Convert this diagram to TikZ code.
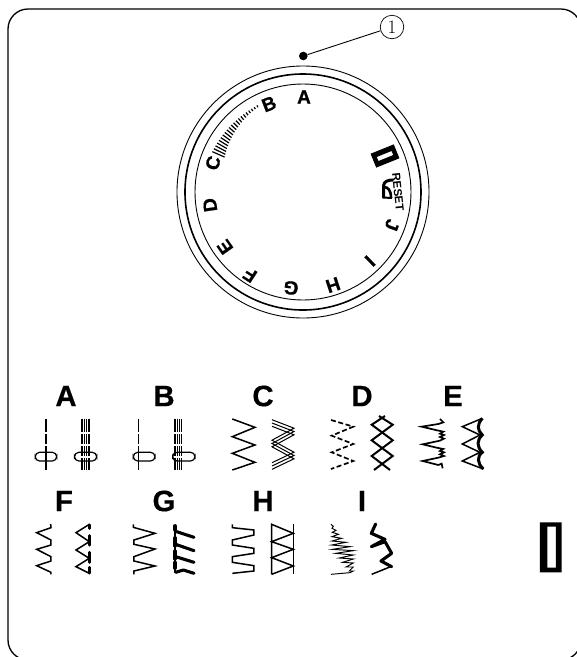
\documentclass[tikz,border=0pt]{standalone}
\usepackage{fontspec}
\setmainfont{Liberation Sans}
\newfontfamily\circfont{Latin Modern Roman}
\newfontfamily\dialfont{Liberation Sans}[BoldFeatures={FakeBold=0.8}]
\newfontfamily\rowfont{Liberation Sans}[BoldFeatures={FakeBold=0.4}]
\tikzset{
  px/.style={x=1pt,y=-1pt},
  zTwo/.style={shift={(20,375)},x=0.3333pt,y=-0.3333pt},
  zThree/.style={shift={(270,375)},x=0.3333pt,y=-0.3333pt},
  zFour/.style={shift={(30,485)},x=0.3333pt,y=-0.3333pt},
  zFive/.style={shift={(270,485)},x=0.3333pt,y=-0.3333pt},
  thinln/.style={line width=1.1pt,line join=miter},
  stitch/.style={line width=1.5pt,line join=miter},
  heavy/.style={line width=3.1pt,line cap=round,line join=round},
  dialletter/.style={font=\dialfont\fontsize{19}{19}\selectfont\bfseries,inner sep=0pt},
  rowletter/.style={font=\rowfont\fontsize{29.5}{30}\selectfont\bfseries,inner sep=0pt},
  oval/.style={draw,line width=1.2pt,rounded corners=4.4pt,fill=white}
}
\begin{document}
\begin{tikzpicture}[px]
\useasboundingbox (0,0) rectangle (577,657);
\begin{scope}
\clip (0,0) rectangle (577,657);
\draw[line width=1.3pt,rounded corners=20pt] (8,9) rectangle (581,660);
\end{scope}
% dial
\coordinate (dial) at (303,192);
\draw[line width=0.9pt] (dial) circle[radius=126pt];
\draw[line width=1.6pt] (dial) circle[radius=118pt];
\draw[line width=0.9pt] (dial) circle[radius=108pt];
\node[circle,fill=black,inner sep=0pt,minimum size=8.6pt] (dot) at (303.3,56) {};
\node[circle,draw,line width=0.7pt,inner sep=0pt,minimum size=23.5pt,font=\circfont\fontsize{19}{19}\selectfont] (one) at (392,27) {1};
\draw[line width=0.9pt] (dot) -- (one);
\node[dialletter,rotate=0] at (304,97) {A};
\node[dialletter,rotate=21] at (269,104) {B};
\node[dialletter,rotate=72] at (213,163) {C};
\node[dialletter,rotate=98] at (210,205) {D};
\node[dialletter,rotate=125] at (225,247) {E};
\node[dialletter,rotate=147] at (250,275) {F};
\node[dialletter,rotate=173] at (291,288) {G};
\node[dialletter,rotate=-162] at (333,285) {H};
\node[dialletter,rotate=-136] at (370,261) {I};
\node[dialletter,rotate=-110] at (392,225) {J};
\foreach \i in {0,...,20}{
  \pgfmathsetmacro{\ang}{118+38*\i/20}
  \pgfmathsetmacro{\hl}{1+5.7*pow(\i/20,1.3)}
  \pgfmathsetmacro{\rmid}{97-4.5*\i/20}
  \pgfmathsetmacro{\xa}{303+(\rmid+\hl)*cos(\ang)}
  \pgfmathsetmacro{\ya}{192-(\rmid+\hl)*sin(\ang)}
  \pgfmathsetmacro{\xb}{303+(\rmid-\hl)*cos(\ang)}
  \pgfmathsetmacro{\yb}{192-(\rmid-\hl)*sin(\ang)}
  \draw[line width=1.2pt] (\xa,\ya) -- (\xb,\yb);
}
\begin{scope}[shift={(385,156)},rotate=-68]
\path[fill=black,even odd rule] (-7.5,-12.5) rectangle (7.5,12.5) (-2.2,-8) rectangle (2.2,8);
\end{scope}
\node[font=\fontsize{11.5}{12}\selectfont\bfseries,inner sep=0pt,rotate=-84] at (398,192) {RESET};
\draw[line width=3pt,line join=round] (383.5,198) -- (383.5,186) .. controls (383.5,181) and (389,180) .. (393,180);
\draw[line width=2.6pt] (383.5,187) .. controls (388,187) and (391,190) .. (391,198);
\draw[line width=2pt] (383,197.5) -- (392,198);
% row letters
\node[rowletter] at (66,396) {A};
\node[rowletter] at (164,396) {B};
\node[rowletter] at (263,396) {C};
\node[rowletter] at (362,396) {D};
\node[rowletter] at (453,396) {E};
\node[rowletter] at (64,501) {F};
\node[rowletter] at (164,501) {G};
\node[rowletter] at (263,501) {H};
\node[rowletter] at (362,501) {I};
% A, B
\draw[stitch] (46,418.5)--(46,431.5) (46,434)--(46,443.5) (46,446)--(46,470);
\draw[oval] (35.2,452.3) rectangle (56.7,461);
\draw[stitch] (46,452.3)--(46,461);
\foreach \x in {82,84.3,86.6,89}{\draw[line width=1.05pt] (\x,418.5)--(\x,431.5) (\x,434)--(\x,443.5) (\x,446)--(\x,470);}
\draw[oval,fill=none] (74.5,452.3) rectangle (96.7,461);
\draw[white,line width=1.6pt] (80,456.7)--(91,456.7);
\draw[stitch] (138.3,418.5)--(138.3,431.5) (138.3,434)--(138.3,443.5) (138.3,446)--(138.3,470);
\draw[oval] (133.3,452.3) rectangle (155,461);
\draw[stitch] (138.3,452.3)--(138.3,461);
\foreach \x in {175,177.2,179.4,181.7}{\draw[line width=1.05pt] (\x,418.5)--(\x,431.5) (\x,434)--(\x,443.5) (\x,446)--(\x,470);}
\draw[oval,fill=none] (172.7,452.3) rectangle (195,461);
\draw[white,line width=1.6pt] (174,456.7)--(189,456.7);
% C
\begin{scope}[zTwo]
\draw[line width=1.5pt] (637,132)--(705,157)--(637,185)--(705,210)--(637,235)--(705,262)--(637,285);
\end{scope}
\foreach \d in {-3.3,0,3.3}{
\draw[line width=1pt] (272,{423+\d})--(294,{431.5+\d})--(272,{443.5+\d})--(294,{455.5+\d})--(272,{466+\d});
}
% D
\begin{scope}[zThree]
\draw[line width=1.7pt,dash pattern=on 5pt off 2.6pt] (183,135)--(250,155)--(185,182)--(250,207)--(185,232)--(250,258)--(183,282);
\end{scope}
\draw[line width=2pt] (379,416)--(392.7,424.7)--(371.7,440.3)--(392.7,456)--(374,470);
\draw[line width=2pt] (385,416)--(371.7,424.7)--(392.7,440.3)--(371.7,456)--(390,470);
% E
\begin{scope}[zThree]
\draw[line width=1.7pt,line join=miter] (510,132)--(520,142)--(505,147)--(455,155)--(497,165)--(520,170)--(510,176)--(522,180)--(510,186)--(522,191)--(510,197)--(458,208)--(500,218)--(520,222)--(510,228)--(522,232)--(510,238)--(522,243)--(505,248)--(458,258)--(505,270)--(515,266)--(518,280);
\draw[stitch] (637,130)--(577,155)--(630,180)--(577,207)--(630,232)--(577,258)--(640,282);
\draw[line width=3pt] (637,130) .. controls (620,150) and (622,165) .. (637,180) .. controls (620,195) and (620,215) .. (637,232) .. controls (620,245) and (622,265) .. (640,282);
\end{scope}
% F, G, H
\begin{scope}[zFour]
\draw[stitch] (62,117)--(63,128)--(20,143)--(63,165)--(63,180)--(20,193)--(63,215)--(63,228)--(20,242)--(63,262)--(63,268);
\draw[stitch] (178,118)--(138,143)--(178,170)--(138,195)--(178,220)--(138,245)--(178,265);
\draw[heavy] (178,120)--(178,130) (178,152)--(178,180) (178,202)--(178,232) (178,247)--(178,264);
\draw[stitch] (310,118)--(310,127)--(375,145)--(312,165)--(312,178)--(375,192)--(312,215)--(312,228)--(375,243)--(312,258)--(312,268);
\draw[heavy] (435,122)--(435,135) (435,158)--(435,183) (435,198)--(435,222) (435,232)--(435,250);
\draw[thinln] (435,122)--(435,265);
\draw[heavy] (440,140)--(492,157) (437,178)--(492,197) (437,215)--(492,232) (437,262)--(460,255)--(492,265);
\draw[stitch] (607,118)--(607,128)--(672,135)--(672,150)--(607,165)--(607,180)--(672,190)--(672,205)--(607,215)--(607,232)--(672,242)--(672,258)--(607,265);
\end{scope}
% H right, I, rectangle
\begin{scope}[zFive]
\draw[stitch] (5,268)--(5,118)--(70,145)--(5,170)--(70,193)--(5,218)--(70,243)--(5,268);
\draw[stitch] (71,118)--(71,268);
\draw[line width=0.95pt] (183,118)--(190,124)--(186,130)--(198,136)--(187,142)--(205,148)--(186,155)--(215,160)--(186,168)--(228,172)--(185,180)--(240,185)--(187,193)--(250,197)--(197,205)--(250,210)--(208,219)--(250,222)--(218,232)--(250,234)--(228,246)--(250,246)--(238,258)--(250,258)--(240,263)--(183,268);
\draw[heavy] (317,117)--(304,145)--(345,163)--(304,185)--(345,170)--(365,205)--(333,228)--(365,245);
\draw[stitch] (362,245)--(305,268);
\path[fill=black,even odd rule] (810,112) rectangle (875,262) (832,125) rectangle (858,248);
\end{scope}
\end{tikzpicture}
\end{document}
